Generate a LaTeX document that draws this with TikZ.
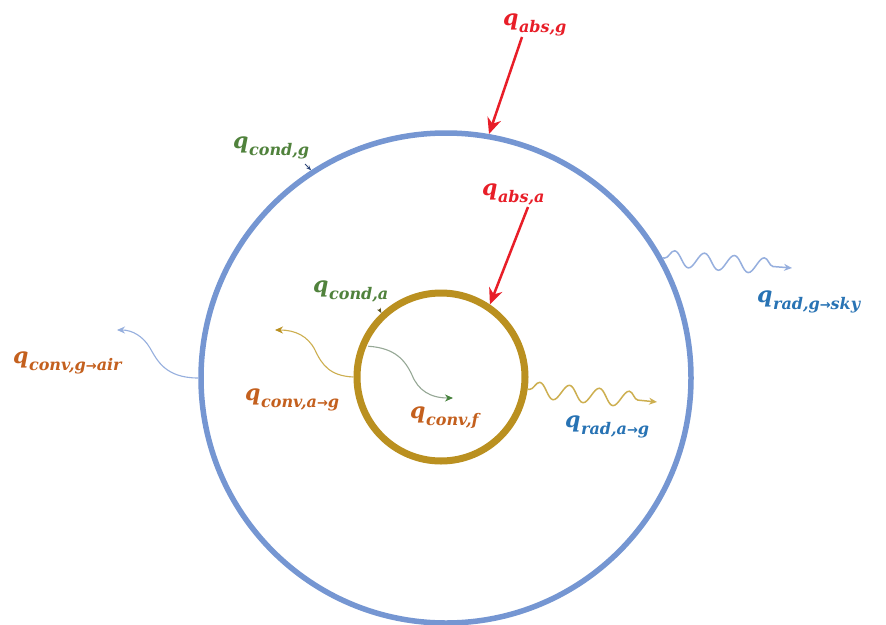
\documentclass[tikz,border=0pt]{standalone}
\usepackage{fontspec}
\setmainfont{DejaVu Serif}
\newfontfamily\arrowfont{DejaVu Sans}
\usetikzlibrary{arrows.meta,decorations.pathmorphing}
\definecolor{ringblue}{RGB}{117,150,210}
\definecolor{ringgold}{RGB}{186,144,32}
\definecolor{redarrow}{RGB}{232,30,40}
\definecolor{labgreen}{RGB}{80,130,60}
\definecolor{laborange}{RGB}{196,96,30}
\definecolor{labblue}{RGB}{40,115,180}
\definecolor{wblue}{RGB}{150,175,222}
\definecolor{wgold}{RGB}{205,175,80}
\definecolor{wgreen}{RGB}{150,168,150}
\definecolor{headgreen}{RGB}{70,130,60}
\definecolor{darkblue}{RGB}{45,70,120}
\definecolor{darkolive}{RGB}{90,80,30}
\newcommand\qlab[1]{\fontsize{22}{22}\selectfont\bfseries\itshape q\kern0.5pt\raisebox{-7pt}{\fontsize{16}{16}\selectfont #1}}
\newcommand\toarr{{\arrowfont\bfseries\upshape\fontsize{13}{13}\selectfont →}}
\begin{document}
\begin{tikzpicture}[x=1pt,y=-1pt,
  lab/.style={inner sep=0pt, anchor=base west},
  redarr/.style={draw=redarrow, line width=2.5pt, -{Stealth[length=16pt,width=14pt]}},
  wavy/.style={decorate, decoration={snake, amplitude=8pt, segment length=30pt, post length=6pt, pre length=2pt}, line width=1.5pt},
  curvearr/.style={line width=1.1pt},
  tinyarr/.style={line width=0.8pt, -{Stealth[length=5pt,width=4pt]}}]
\path[fill=white] (0,0) rectangle (886,624);
\useasboundingbox (0,0) rectangle (886,624);

% rings
\node[circle, draw=ringblue, line width=5.5pt, inner sep=0pt, minimum size=490pt] (outer) at (446,378) {};
\node[circle, draw=ringgold, line width=7pt, inner sep=0pt, minimum size=168pt] (inner) at (441,377) {};

% labels
\node[lab, text=redarrow] (absg) at (503,25) {\qlab{abs,g}};
\node[lab, text=redarrow] (absa) at (482,195) {\qlab{abs,a}};
\node[lab, text=labgreen] (condg) at (233,148) {\qlab{cond,g}};
\node[lab, text=labgreen] (conda) at (313,292) {\qlab{cond,a}};
\node[lab, text=laborange] (convgair) at (13,363) {\qlab{conv,g\toarr air}};
\node[lab, text=laborange] (convag) at (245,400) {\qlab{conv,a\toarr g}};
\node[lab, text=laborange] (convf) at (410,418) {\qlab{conv,f}};
\node[lab, text=labblue] (radgsky) at (757,302) {\qlab{rad,g\toarr sky}};
\node[lab, text=labblue] (radag) at (565,427) {\qlab{rad,a\toarr g}};

% absorbed
\coordinate (absgS) at (522,37);
\coordinate (absaS) at (528,207);
\draw[redarr] (absgS) -- (outer.80.4);
\draw[redarr] (absaS) -- (inner.56.5);

% conduction (tiny)
\coordinate (condgT) at (305,164);
\coordinate (condaT) at (379,309);
\draw[tinyarr, darkblue] (condgT) -- (outer.123);
\draw[tinyarr, darkolive] (condaT) -- (inner.133);

% radiation
\coordinate (radgskyE) at (792,268);
\coordinate (radagE) at (657,402);
\draw[wavy, wblue, -{Stealth[length=8pt,width=7pt]}] (outer.29.9) -- (radgskyE);
\draw[wavy, wgold, -{Stealth[length=8pt,width=7pt]}] (inner.-8) -- (radagE);

% convection
\coordinate (convgairE) at (117,330);
\coordinate (convagE) at (275,330);
\coordinate (convfE) at (453,398);
\draw[curvearr, wblue, -{Stealth[length=8pt,width=7pt]}] (outer.180) .. controls (165,378) and (157,360) .. (150,348) .. controls (143,336) and (132,330) .. (convgairE);
\draw[curvearr, wgold, -{Stealth[length=8pt,width=7pt,color=ringgold]}] (inner.180) .. controls (330,376) and (322,365) .. (315,350) .. controls (308,336) and (295,330) .. (convagE);
\draw[curvearr, wgreen, -{Stealth[length=8pt,width=7pt,color=headgreen]}, shorten <=9pt] (inner.159) .. controls (395,348) and (405,360) .. (412,375) .. controls (418,390) and (430,398) .. (convfE);
\end{tikzpicture}
\end{document}
